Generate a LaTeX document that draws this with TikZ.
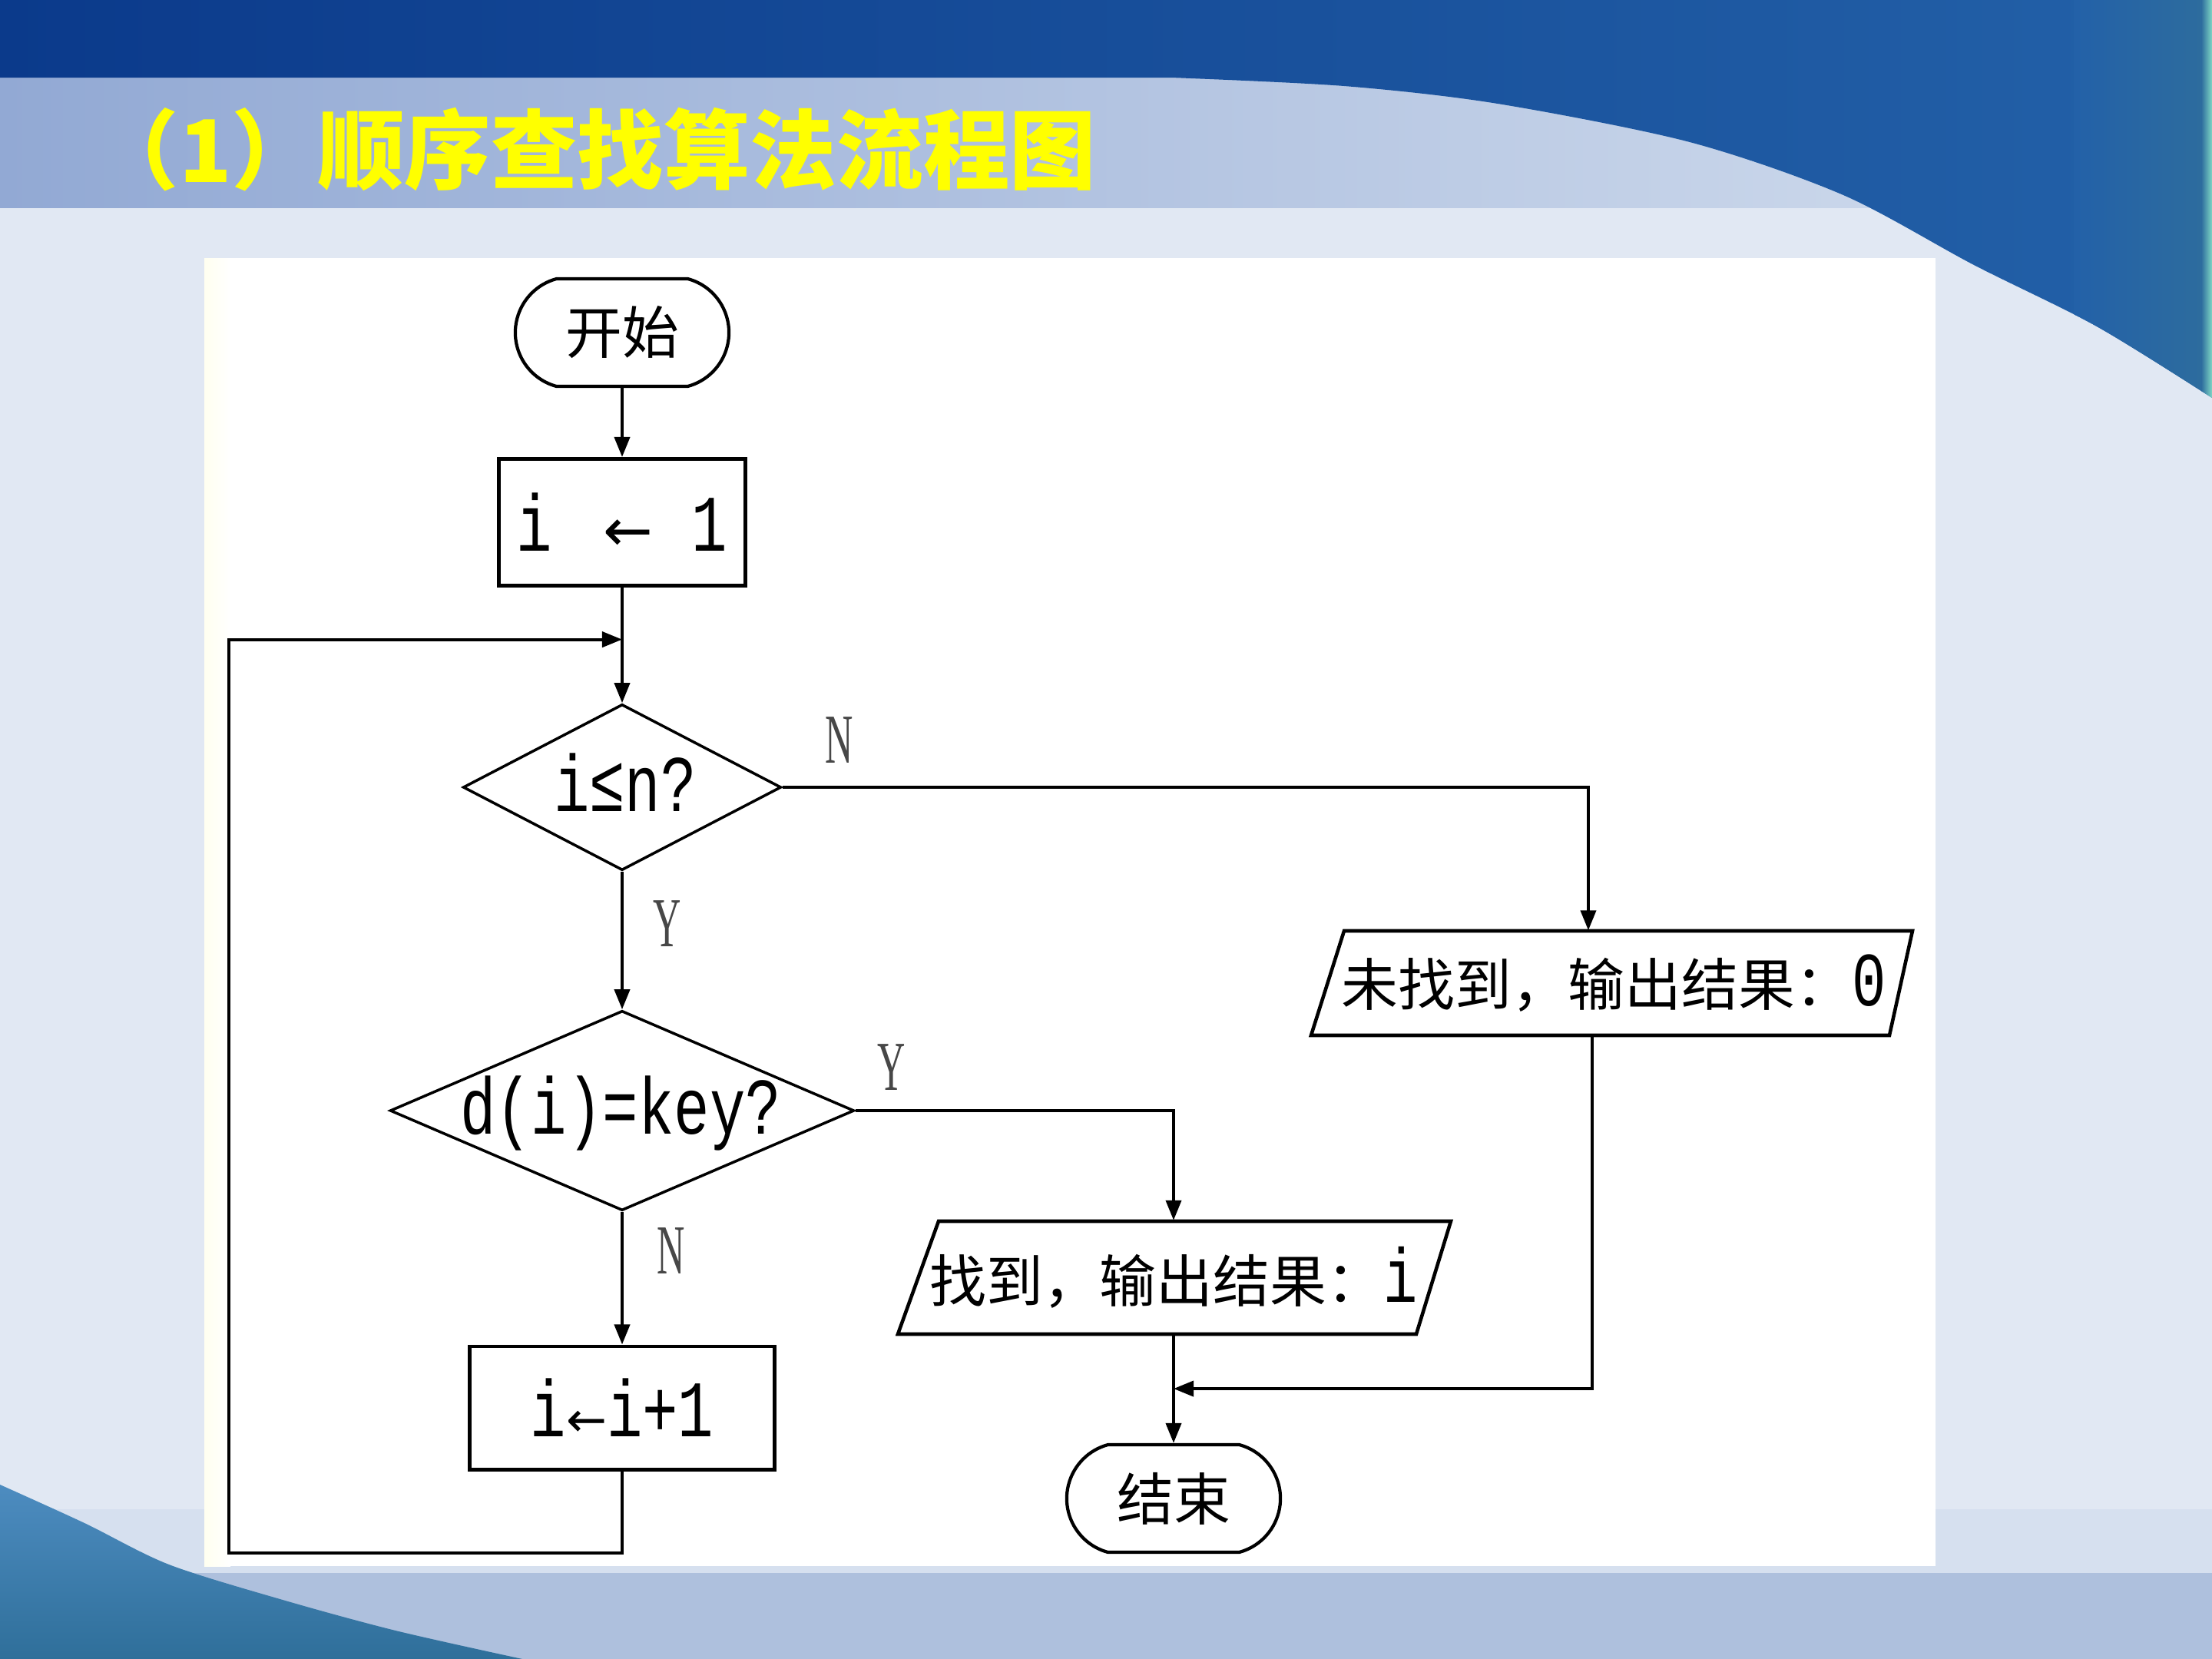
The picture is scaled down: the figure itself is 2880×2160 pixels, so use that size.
\documentclass[tikz,border=0pt]{standalone}
\usepackage{fontspec}
\usepackage{graphicx}
\usetikzlibrary{shapes.geometric,shapes.misc,arrows.meta,calc}
\newfontfamily\cjk{Noto Sans CJK SC}
\newfontfamily\lat{Liberation Mono}
\newfontfamily\ser{Liberation Serif}
\newfontfamily\sym{DejaVu Sans}
\definecolor{bgc}{HTML}{E1E8F3}
\definecolor{darkL}{HTML}{0B3A8B}
\definecolor{darkR}{HTML}{2361A8}
\definecolor{bandL}{HTML}{92A9D4}
\definecolor{bandM}{HTML}{B2C3E1}
\definecolor{bandR}{HTML}{D3DEEE}
\definecolor{botband}{HTML}{AEC0DD}
\definecolor{botlight}{HTML}{D6E0EF}
\definecolor{swooshT}{HTML}{4D8CC0}
\definecolor{swooshB}{HTML}{2F6F9A}
\definecolor{teal}{HTML}{7FD6C4}
\definecolor{tealdk}{HTML}{2D6C9E}
\definecolor{titley}{HTML}{FFFF00}
\tikzset{
  line/.style={line width=1.1pt, black},
  arr/.style={line, -{Triangle[length=0.26cm,width=0.2cm]}},
  term/.style={rounded rectangle, rounded rectangle arc length=150, draw, line width=1.2pt,
    minimum width=2.78cm, minimum height=1.4cm, inner sep=0pt},
  proc/.style={rectangle, draw, line width=1.4pt, inner sep=0pt},
  dec/.style={diamond, draw, line width=1pt, inner sep=0pt},
  iobox/.style={line width=1.3pt, black, line join=miter},
  io/.style={inner sep=0pt},
  lbl/.style={font=\ser\fontsize{26}{28}\selectfont, text=black!72, inner sep=0pt},
  cjkt/.style={font=\cjk\fontsize{21}{24}\selectfont},
  latt/.style={font=\lat\fontsize{22}{24}\selectfont, inner sep=0pt},
}
\begin{document}
\begin{tikzpicture}[x=0.01cm,y=-0.01cm]
\useasboundingbox (0,0) rectangle (2880,2160);
% ---------- background ----------
\fill[bgc] (0,0) rectangle (2880,2160);
\shade[left color=bandL, middle color=bandM, right color=bandR] (0,101) rectangle (2880,270);
\begin{scope}
  \clip (0,0) -- (2880,0) -- plot[smooth] coordinates {(2880,518) (2730,425) (2570,345) (2400,254) (2200,185) (1950,135) (1750,112) (1525,101)} -- (0,101) -- cycle;
  \shade[left color=darkL, right color=darkR] (0,0) rectangle (2880,520);
  \shade[left color=darkR, right color=tealdk] (2700,0) rectangle (2868,520);
  \shade[left color=tealdk, right color=teal] (2866,0) rectangle (2880,520);
\end{scope}
\fill[botlight] (0,1965) rectangle (2880,2048);
\fill[botband] (0,2048) rectangle (2880,2160);
\shade[top color=swooshT, bottom color=swooshB]
  (0,1933) -- plot[smooth] coordinates {(0,1933) (110,1983) (220,2037) (368,2083) (515,2123) (680,2160)} -- (0,2160) -- cycle;
% ---------- panel ----------
\fill[white] (266,336) rectangle (2520,2039);
\shade[left color=black!3!yellow!6, right color=white] (266,336) rectangle (300,2039);
% ---------- title ----------
\node[anchor=west, inner sep=0pt, text=titley, font=\cjk\bfseries\fontsize{32}{36}\selectfont] (title) at (120,195) {（1）顺序查找算法流程图};
% ---------- nodes ----------
\node[term, cjkt] (start) at (810,433) {开始};
\node[proc, minimum width=3.2cm, minimum height=1.65cm, latt] (init) at (810,680)
  {\scalebox{1}[1.35]{i}\hspace*{0.66cm}{\sym ←}\hspace*{0.51cm}\scalebox{1}[1.35]{1}};
\node[dec, minimum width=4.14cm, minimum height=2.16cm] (d1) at (810,1025) {};
\node[latt] (d1t) at (814,1019) {\scalebox{1}[1.35]{i≤n?}};
\node[dec, minimum width=6.04cm, minimum height=2.6cm] (d2) at (810,1446) {};
\node[latt] (d2t) at (808,1449) {\scalebox{1}[1.35]{d(i)=key?}};
\node[proc, minimum width=3.97cm, minimum height=1.6cm, latt] (incr) at (810,1833)
  {\raisebox{-0.1cm}{\scalebox{1}[1.35]{i}{\sym\fontsize{18}{20}\selectfont ←}\scalebox{1}[1.35]{i+1}}};
\draw[iobox] (1750,1212) -- (2490,1212) -- (2460,1348) -- (1707,1348) -- cycle;
\node[io, minimum width=7.0cm, minimum height=1.36cm, cjkt] (out0) at (2101,1280)
  {未找到，输出结果：{\lat\scalebox{1}[1.35]{0}}};
\draw[iobox] (1222,1590) -- (1889,1590) -- (1844,1737) -- (1169,1737) -- cycle;
\node[io, minimum width=6.2cm, minimum height=1.47cm, cjkt] (found) at (1528,1663)
  {找到，输出结果：{\lat\scalebox{1}[1.35]{i}}};
\node[term, cjkt] (end) at (1528,1951) {结束};
% ---------- connectors ----------
\coordinate (lm) at ($(init.south)!0.45!(d1.north)$);
\coordinate (fm) at ($(found.south)!0.5!(end.north)$);
\coordinate (loopcorner) at (298,2022);
\draw[arr] (start.south) -- (init.north);
\draw[arr] (init.south) -- (d1.north);
\draw[arr] (d1.south) -- (d2.north);
\draw[arr] (d2.south) -- (incr.north);
\draw[arr] (incr.south) |- (loopcorner) |- (lm);
\draw[arr] (d1.east) -| ([xshift=-0.33cm]out0.north);
\draw[arr] (d2.east) -| (found.north);
\draw[arr] (found.south) -- (end.north);
\draw[arr] ([xshift=-0.28cm]out0.south) |- (fm);
% ---------- labels ----------
\node[lbl] (lN1) at (1093,964) {\scalebox{0.55}[1]{N}};
\node[lbl] (lY1) at (869,1203) {\scalebox{0.55}[1]{Y}};
\node[lbl] (lY2) at (1161,1390) {\scalebox{0.55}[1]{Y}};
\node[lbl] (lN2) at (874,1629) {\scalebox{0.55}[1]{N}};
\end{tikzpicture}
\end{document}
